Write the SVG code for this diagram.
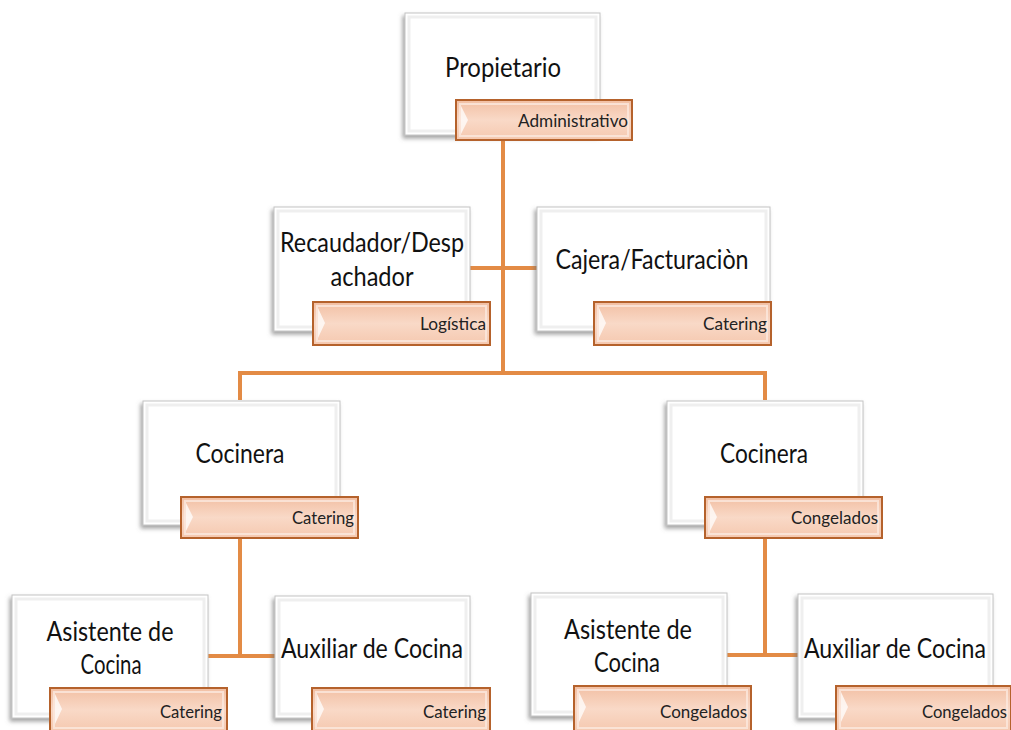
<svg xmlns="http://www.w3.org/2000/svg" width="1011" height="730" viewBox="0 0 1011 730">
<defs>
<filter id="sh" x="-10%" y="-10%" width="120%" height="130%">
<feDropShadow dx="-2" dy="3" stdDeviation="2" flood-color="#707070" flood-opacity="0.65"/>
</filter>
<linearGradient id="lg" x1="0" y1="0" x2="0" y2="1">
<stop offset="0" stop-color="#F2BFA3"/>
<stop offset="0.5" stop-color="#F9D9C7"/>
<stop offset="1" stop-color="#F5C8AF"/>
</linearGradient>
</defs>
<style>
.box{fill:#fff;stroke:#c4c4c4;stroke-width:1;filter:url(#sh)}
.bev{fill:none;stroke:#efefef;stroke-width:3}
.lab{fill:url(#lg);stroke:#B5622C;stroke-width:2}
.lbev{fill:none;stroke:#fbe8de;stroke-width:2;opacity:0.8}
.chev{fill:#fff;opacity:0.75}
.t{font-family:Lato,"Liberation Sans",sans-serif;font-size:27px;fill:#111;text-anchor:middle}
.s{font-family:Lato,"Liberation Sans",sans-serif;font-size:17px;fill:#222;text-anchor:end}
.c{stroke:#E38B45;stroke-width:4;fill:none}
</style>
<g id="connectors">
<path class="c" d="M503 140V373M470 268H537M240 373H765M240 371V400M765 371V400M240 538V656M208 656H275M765 537V655M727 655H798"/>
</g>
<g id="n-propietario">
<rect class="box" x="405" y="13" width="195" height="122"/>
<rect class="bev" x="409" y="17" width="187" height="114"/>
<text class="t" x="503" y="77" textLength="116" lengthAdjust="spacingAndGlyphs">Propietario</text>
<rect class="lab" x="456" y="100" width="176" height="40"/>
<rect class="lbev" x="460" y="104" width="168" height="32"/>
<polygon class="chev" points="461,106 468,120 461,134"/>
<text class="s" x="628" y="127" textLength="110" lengthAdjust="spacingAndGlyphs">Administrativo</text>
</g>
<g id="n-recaudador">
<rect class="box" x="274" y="207" width="196" height="124"/>
<rect class="bev" x="278" y="211" width="188" height="116"/>
<text class="t" x="372" y="252" textLength="184" lengthAdjust="spacingAndGlyphs">Recaudador/Desp</text>
<text class="t" x="372" y="286" textLength="83" lengthAdjust="spacingAndGlyphs">achador</text>
<rect class="lab" x="313" y="302" width="177" height="43"/>
<rect class="lbev" x="317" y="306" width="169" height="35"/>
<polygon class="chev" points="318,308 325,323 318,338"/>
<text class="s" x="486" y="330" textLength="66" lengthAdjust="spacingAndGlyphs">Logística</text>
</g>
<g id="n-cajera">
<rect class="box" x="537" y="207" width="233" height="124"/>
<rect class="bev" x="541" y="211" width="225" height="116"/>
<text class="t" x="652" y="269" textLength="193" lengthAdjust="spacingAndGlyphs">Cajera/Facturaciòn</text>
<rect class="lab" x="594" y="302" width="177" height="43"/>
<rect class="lbev" x="598" y="306" width="169" height="35"/>
<polygon class="chev" points="599,308 606,323 599,338"/>
<text class="s" x="767" y="330" textLength="64" lengthAdjust="spacingAndGlyphs">Catering</text>
</g>
<g id="n-cocinera-catering">
<rect class="box" x="143" y="401" width="197" height="124"/>
<rect class="bev" x="147" y="405" width="189" height="116"/>
<text class="t" x="240" y="463" textLength="89" lengthAdjust="spacingAndGlyphs">Cocinera</text>
<rect class="lab" x="181" y="497" width="177" height="41"/>
<rect class="lbev" x="185" y="501" width="169" height="33"/>
<polygon class="chev" points="186,503 193,517 186,531"/>
<text class="s" x="354" y="524" textLength="62" lengthAdjust="spacingAndGlyphs">Catering</text>
</g>
<g id="n-cocinera-congelados">
<rect class="box" x="667" y="401" width="196" height="124"/>
<rect class="bev" x="671" y="405" width="188" height="116"/>
<text class="t" x="764" y="463" textLength="88" lengthAdjust="spacingAndGlyphs">Cocinera</text>
<rect class="lab" x="705" y="497" width="177" height="41"/>
<rect class="lbev" x="709" y="501" width="169" height="33"/>
<polygon class="chev" points="710,503 717,517 710,531"/>
<text class="s" x="878" y="524" textLength="87" lengthAdjust="spacingAndGlyphs">Congelados</text>
</g>
<g id="n-asistente-catering">
<rect class="box" x="12" y="595" width="196" height="123"/>
<rect class="bev" x="16" y="599" width="188" height="115"/>
<text class="t" x="110" y="641" textLength="127" lengthAdjust="spacingAndGlyphs">Asistente de</text>
<text class="t" x="111" y="674" textLength="61" lengthAdjust="spacingAndGlyphs">Cocina</text>
<rect class="lab" x="50" y="688" width="177" height="44"/>
<rect class="lbev" x="54" y="692" width="169" height="36"/>
<polygon class="chev" points="55,694 62,709 55,724"/>
<text class="s" x="222" y="718" textLength="62" lengthAdjust="spacingAndGlyphs">Catering</text>
</g>
<g id="n-auxiliar-catering">
<rect class="box" x="275" y="596" width="195" height="122"/>
<rect class="bev" x="279" y="600" width="187" height="114"/>
<text class="t" x="372" y="658" textLength="182" lengthAdjust="spacingAndGlyphs">Auxiliar de Cocina</text>
<rect class="lab" x="312" y="688" width="178" height="44"/>
<rect class="lbev" x="316" y="692" width="170" height="36"/>
<polygon class="chev" points="317,694 324,709 317,724"/>
<text class="s" x="486" y="718" textLength="63" lengthAdjust="spacingAndGlyphs">Catering</text>
</g>
<g id="n-asistente-congelados">
<rect class="box" x="531" y="593" width="196" height="123"/>
<rect class="bev" x="535" y="597" width="188" height="115"/>
<text class="t" x="628" y="639" textLength="128" lengthAdjust="spacingAndGlyphs">Asistente de</text>
<text class="t" x="627" y="672" textLength="66" lengthAdjust="spacingAndGlyphs">Cocina</text>
<rect class="lab" x="574" y="686" width="177" height="46"/>
<rect class="lbev" x="578" y="690" width="169" height="38"/>
<polygon class="chev" points="579,692 586,707 579,722"/>
<text class="s" x="747" y="718" textLength="87" lengthAdjust="spacingAndGlyphs">Congelados</text>
</g>
<g id="n-auxiliar-congelados">
<rect class="box" x="798" y="594" width="195" height="124"/>
<rect class="bev" x="802" y="598" width="187" height="116"/>
<text class="t" x="895" y="658" textLength="182" lengthAdjust="spacingAndGlyphs">Auxiliar de Cocina</text>
<rect class="lab" x="836" y="686" width="175" height="46"/>
<rect class="lbev" x="840" y="690" width="167" height="38"/>
<polygon class="chev" points="841,692 848,707 841,722"/>
<text class="s" x="1007" y="718" textLength="85" lengthAdjust="spacingAndGlyphs">Congelados</text>
</g>
</svg>
